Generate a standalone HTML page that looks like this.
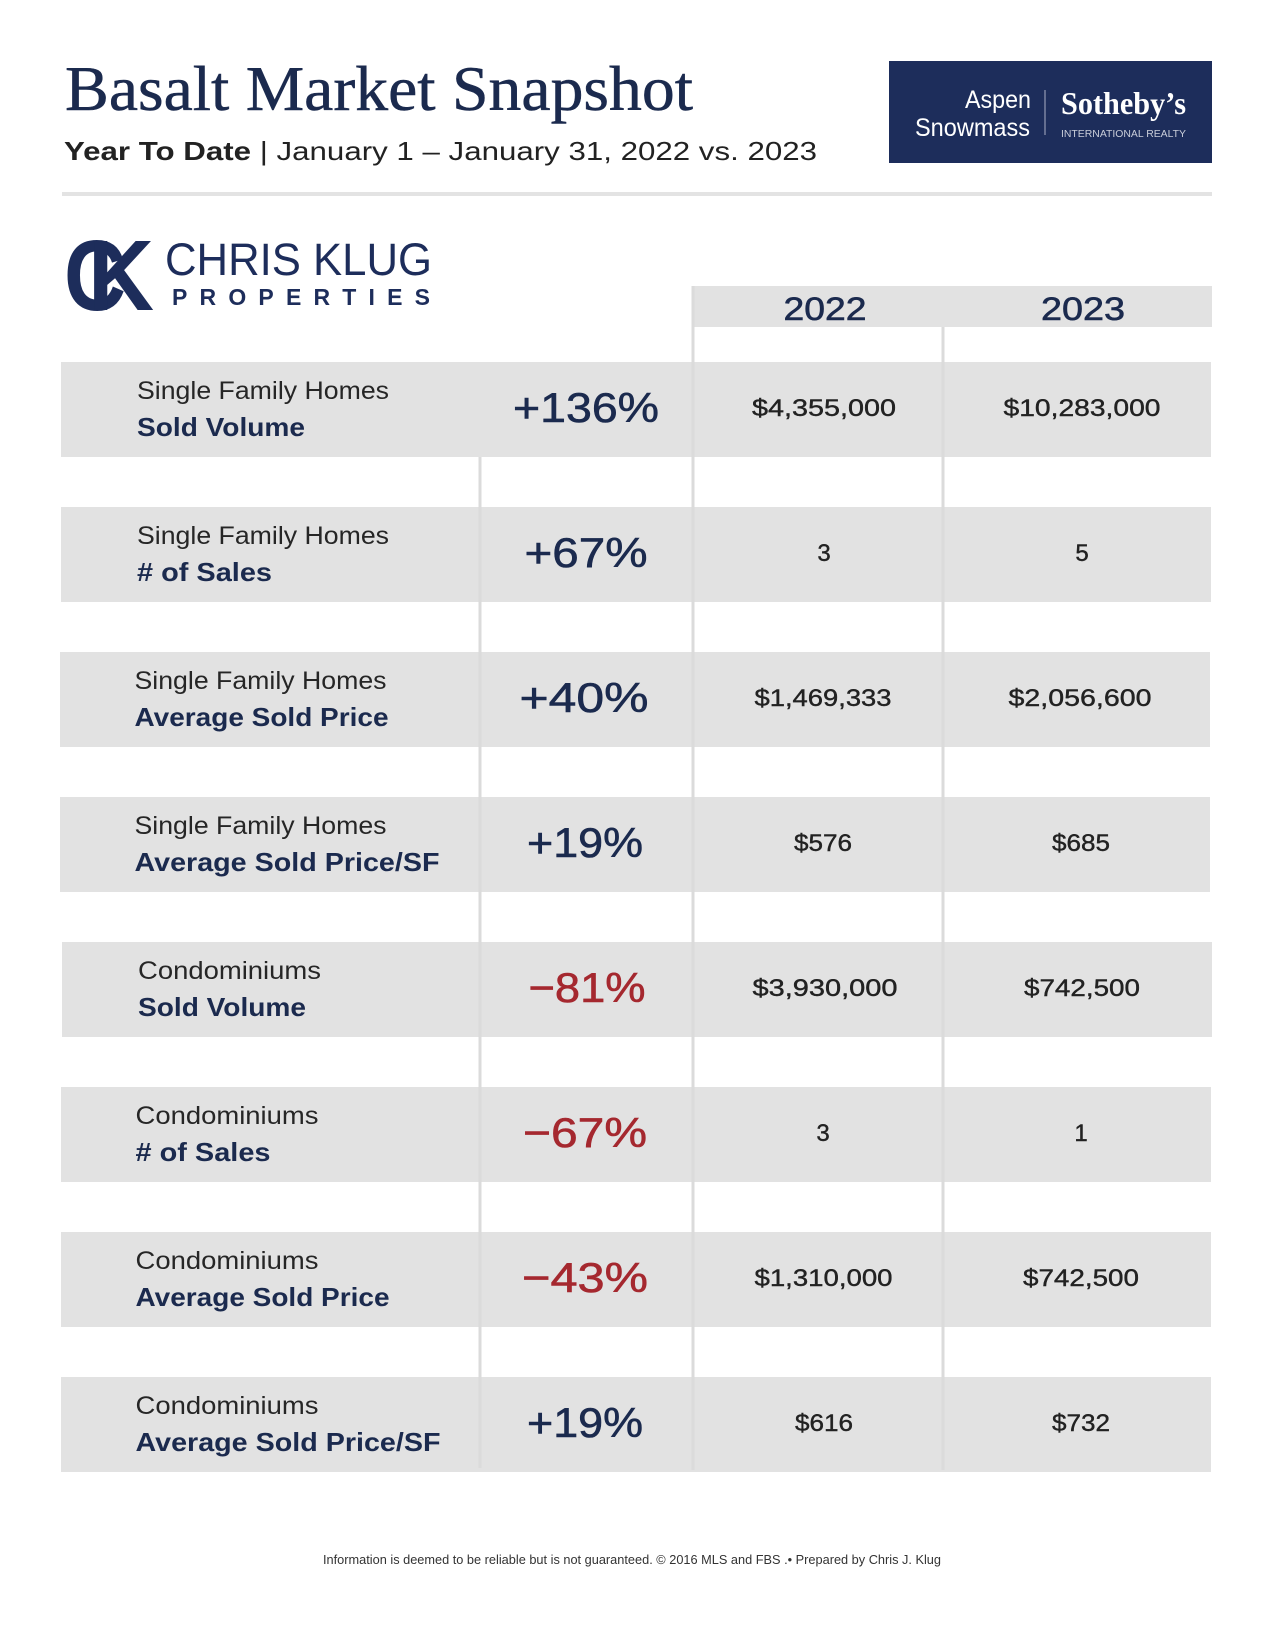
<!DOCTYPE html>
<html>
<head>
<meta charset="utf-8">
<style>
  html, body { margin: 0; padding: 0; background: #ffffff; }
  svg { display: block; }
</style>
</head>
<body>
<svg width="1275" height="1650" viewBox="0 0 1275 1650" xmlns="http://www.w3.org/2000/svg">
  <rect x="0" y="0" width="1275" height="1650" fill="#ffffff"/>

  <!-- Title -->
  <text x="65" y="110" font-family="'Liberation Serif', serif" font-size="64" fill="#1b2a4e" stroke="#1b2a4e" stroke-width="0.5" textLength="628" lengthAdjust="spacingAndGlyphs">Basalt Market Snapshot</text>

  <!-- Subtitle -->
  <text x="64" y="160" font-family="'Liberation Sans', sans-serif" font-size="26" fill="#222222" textLength="753" lengthAdjust="spacingAndGlyphs"><tspan font-weight="bold">Year To Date</tspan> | January 1 – January 31, 2022 vs. 2023</text>

  <!-- Sotheby's box -->
  <rect x="889" y="61" width="323" height="102" fill="#1d2d5b"/>
  <text x="965" y="108" font-family="'Liberation Sans', sans-serif" font-size="25" fill="#ffffff" textLength="66" lengthAdjust="spacingAndGlyphs">Aspen</text>
  <text x="915" y="136" font-family="'Liberation Sans', sans-serif" font-size="25" fill="#ffffff" textLength="115" lengthAdjust="spacingAndGlyphs">Snowmass</text>
  <rect x="1044.5" y="90" width="1" height="45" fill="#aab0c4"/>
  <text x="1061" y="114" font-family="'Liberation Serif', serif" font-weight="bold" font-size="32" fill="#ffffff" textLength="125" lengthAdjust="spacingAndGlyphs">Sotheby’s</text>
  <text x="1061" y="137" font-family="'Liberation Sans', sans-serif" font-size="10.5" fill="#c9cdd9" textLength="125" lengthAdjust="spacingAndGlyphs">INTERNATIONAL REALTY</text>

  <!-- Horizontal rule -->
  <rect x="62" y="192" width="1150" height="4" fill="#e3e3e3"/>

  <!-- Chris Klug logo -->
  <text x="64" y="310" font-family="'Liberation Sans', sans-serif" font-weight="bold" font-size="100" fill="#1d2d5b" textLength="62" lengthAdjust="spacingAndGlyphs">C</text>
  <text x="88" y="310" font-family="'Liberation Sans', sans-serif" font-weight="bold" font-size="100" fill="#1d2d5b" textLength="66" lengthAdjust="spacingAndGlyphs">K</text>
  <text x="165" y="275" font-family="'Liberation Sans', sans-serif" font-size="45" fill="#1d2d5b" textLength="267" lengthAdjust="spacingAndGlyphs">CHRIS KLUG</text>
  <text x="172" y="305" font-family="'Liberation Sans', sans-serif" font-weight="bold" font-size="23" fill="#1d2d5b" textLength="258" lengthAdjust="spacing">PROPERTIES</text>

  <!-- Header band -->
  <rect x="693" y="286" width="519" height="41" fill="#e2e2e2"/>
  <text x="825" y="320" text-anchor="middle" font-family="'Liberation Sans', sans-serif" font-size="32" fill="#1b2a4e" stroke="#1b2a4e" stroke-width="0.6" textLength="83" lengthAdjust="spacingAndGlyphs">2022</text>
  <text x="1083" y="320" text-anchor="middle" font-family="'Liberation Sans', sans-serif" font-size="32" fill="#1b2a4e" stroke="#1b2a4e" stroke-width="0.6" textLength="84" lengthAdjust="spacingAndGlyphs">2023</text>

  <!-- Row bands -->
  <g fill="#e2e2e2">
    <rect x="61" y="362" width="1150" height="95"/>
    <rect x="61" y="507" width="1150" height="95"/>
    <rect x="60" y="652" width="1150" height="95"/>
    <rect x="60" y="797" width="1150" height="95"/>
    <rect x="62" y="942" width="1150" height="95"/>
    <rect x="61" y="1087" width="1150" height="95"/>
    <rect x="61" y="1232" width="1150" height="95"/>
    <rect x="61" y="1377" width="1150" height="95"/>
  </g>

  <!-- Vertical lines -->
  <g fill="#dbdbdb">
    <rect x="691.5" y="286" width="3" height="1184"/>
    <rect x="941.5" y="327" width="3" height="1143"/>
    <rect x="478.5" y="457" width="3" height="1011"/>
  </g>

  <!-- Row 1 -->
  <g font-family="'Liberation Sans', sans-serif">
    <text x="137" y="399" font-size="25" fill="#262626" textLength="252" lengthAdjust="spacingAndGlyphs">Single Family Homes</text>
    <text x="137" y="436" font-size="26" font-weight="bold" fill="#1b2a4e" textLength="168" lengthAdjust="spacingAndGlyphs">Sold Volume</text>
    <text x="586" y="422" text-anchor="middle" font-size="42" fill="#1b2a4e" stroke="#1b2a4e" stroke-width="0.6" textLength="146" lengthAdjust="spacingAndGlyphs">+136%</text>
    <text x="824" y="416" text-anchor="middle" font-size="24" fill="#222222" stroke="#222222" stroke-width="0.4" textLength="144" lengthAdjust="spacingAndGlyphs">$4,355,000</text>
    <text x="1082" y="416" text-anchor="middle" font-size="24" fill="#222222" stroke="#222222" stroke-width="0.4" textLength="157" lengthAdjust="spacingAndGlyphs">$10,283,000</text>
  </g>

  <!-- Row 2 -->
  <g font-family="'Liberation Sans', sans-serif">
    <text x="137" y="544" font-size="25" fill="#262626" textLength="252" lengthAdjust="spacingAndGlyphs">Single Family Homes</text>
    <text x="137" y="581" font-size="26" font-weight="bold" fill="#1b2a4e" textLength="135" lengthAdjust="spacingAndGlyphs"># of Sales</text>
    <text x="586" y="567" text-anchor="middle" font-size="42" fill="#1b2a4e" stroke="#1b2a4e" stroke-width="0.6" textLength="123" lengthAdjust="spacingAndGlyphs">+67%</text>
    <text x="824" y="561" text-anchor="middle" font-size="24" fill="#222222" stroke="#222222" stroke-width="0.4">3</text>
    <text x="1082" y="561" text-anchor="middle" font-size="24" fill="#222222" stroke="#222222" stroke-width="0.4">5</text>
  </g>

  <!-- Row 3 -->
  <g font-family="'Liberation Sans', sans-serif">
    <text x="134.5" y="689" font-size="25" fill="#262626" textLength="252" lengthAdjust="spacingAndGlyphs">Single Family Homes</text>
    <text x="134.5" y="726" font-size="26" font-weight="bold" fill="#1b2a4e" textLength="254" lengthAdjust="spacingAndGlyphs">Average Sold Price</text>
    <text x="584" y="712" text-anchor="middle" font-size="42" fill="#1b2a4e" stroke="#1b2a4e" stroke-width="0.6" textLength="129" lengthAdjust="spacingAndGlyphs">+40%</text>
    <text x="823" y="706" text-anchor="middle" font-size="24" fill="#222222" stroke="#222222" stroke-width="0.4" textLength="137" lengthAdjust="spacingAndGlyphs">$1,469,333</text>
    <text x="1080" y="706" text-anchor="middle" font-size="24" fill="#222222" stroke="#222222" stroke-width="0.4" textLength="143" lengthAdjust="spacingAndGlyphs">$2,056,600</text>
  </g>

  <!-- Row 4 -->
  <g font-family="'Liberation Sans', sans-serif">
    <text x="134.5" y="834" font-size="25" fill="#262626" textLength="252" lengthAdjust="spacingAndGlyphs">Single Family Homes</text>
    <text x="134.5" y="871" font-size="26" font-weight="bold" fill="#1b2a4e" textLength="305" lengthAdjust="spacingAndGlyphs">Average Sold Price/SF</text>
    <text x="585" y="857" text-anchor="middle" font-size="42" fill="#1b2a4e" stroke="#1b2a4e" stroke-width="0.6" textLength="116" lengthAdjust="spacingAndGlyphs">+19%</text>
    <text x="823" y="851" text-anchor="middle" font-size="24" fill="#222222" stroke="#222222" stroke-width="0.4" textLength="58" lengthAdjust="spacingAndGlyphs">$576</text>
    <text x="1081" y="851" text-anchor="middle" font-size="24" fill="#222222" stroke="#222222" stroke-width="0.4" textLength="58" lengthAdjust="spacingAndGlyphs">$685</text>
  </g>

  <!-- Row 5 -->
  <g font-family="'Liberation Sans', sans-serif">
    <text x="138" y="979" font-size="25" fill="#262626" textLength="183" lengthAdjust="spacingAndGlyphs">Condominiums</text>
    <text x="138" y="1016" font-size="26" font-weight="bold" fill="#1b2a4e" textLength="168" lengthAdjust="spacingAndGlyphs">Sold Volume</text>
    <text x="587" y="1002" text-anchor="middle" font-size="42" fill="#a5282f" stroke="#a5282f" stroke-width="0.6" textLength="117" lengthAdjust="spacingAndGlyphs">−81%</text>
    <text x="825" y="996" text-anchor="middle" font-size="24" fill="#222222" stroke="#222222" stroke-width="0.4" textLength="145" lengthAdjust="spacingAndGlyphs">$3,930,000</text>
    <text x="1082" y="996" text-anchor="middle" font-size="24" fill="#222222" stroke="#222222" stroke-width="0.4" textLength="116" lengthAdjust="spacingAndGlyphs">$742,500</text>
  </g>

  <!-- Row 6 -->
  <g font-family="'Liberation Sans', sans-serif">
    <text x="135.5" y="1124" font-size="25" fill="#262626" textLength="183" lengthAdjust="spacingAndGlyphs">Condominiums</text>
    <text x="135.5" y="1161" font-size="26" font-weight="bold" fill="#1b2a4e" textLength="135" lengthAdjust="spacingAndGlyphs"># of Sales</text>
    <text x="585" y="1147" text-anchor="middle" font-size="42" fill="#a5282f" stroke="#a5282f" stroke-width="0.6" textLength="124" lengthAdjust="spacingAndGlyphs">−67%</text>
    <text x="823" y="1141" text-anchor="middle" font-size="24" fill="#222222" stroke="#222222" stroke-width="0.4">3</text>
    <text x="1081" y="1141" text-anchor="middle" font-size="24" fill="#222222" stroke="#222222" stroke-width="0.4">1</text>
  </g>

  <!-- Row 7 -->
  <g font-family="'Liberation Sans', sans-serif">
    <text x="135.5" y="1269" font-size="25" fill="#262626" textLength="183" lengthAdjust="spacingAndGlyphs">Condominiums</text>
    <text x="135.5" y="1306" font-size="26" font-weight="bold" fill="#1b2a4e" textLength="254" lengthAdjust="spacingAndGlyphs">Average Sold Price</text>
    <text x="585" y="1292" text-anchor="middle" font-size="42" fill="#a5282f" stroke="#a5282f" stroke-width="0.6" textLength="126" lengthAdjust="spacingAndGlyphs">−43%</text>
    <text x="823.5" y="1286" text-anchor="middle" font-size="24" fill="#222222" stroke="#222222" stroke-width="0.4" textLength="138" lengthAdjust="spacingAndGlyphs">$1,310,000</text>
    <text x="1081" y="1286" text-anchor="middle" font-size="24" fill="#222222" stroke="#222222" stroke-width="0.4" textLength="116" lengthAdjust="spacingAndGlyphs">$742,500</text>
  </g>

  <!-- Row 8 -->
  <g font-family="'Liberation Sans', sans-serif">
    <text x="135.5" y="1414" font-size="25" fill="#262626" textLength="183" lengthAdjust="spacingAndGlyphs">Condominiums</text>
    <text x="135.5" y="1451" font-size="26" font-weight="bold" fill="#1b2a4e" textLength="305" lengthAdjust="spacingAndGlyphs">Average Sold Price/SF</text>
    <text x="585" y="1437" text-anchor="middle" font-size="42" fill="#1b2a4e" stroke="#1b2a4e" stroke-width="0.6" textLength="116" lengthAdjust="spacingAndGlyphs">+19%</text>
    <text x="824" y="1431" text-anchor="middle" font-size="24" fill="#222222" stroke="#222222" stroke-width="0.4" textLength="58" lengthAdjust="spacingAndGlyphs">$616</text>
    <text x="1081" y="1431" text-anchor="middle" font-size="24" fill="#222222" stroke="#222222" stroke-width="0.4" textLength="58" lengthAdjust="spacingAndGlyphs">$732</text>
  </g>

  <!-- Footer -->
  <text x="323" y="1564" font-family="'Liberation Sans', sans-serif" font-size="12.5" fill="#333333" textLength="618" lengthAdjust="spacingAndGlyphs">Information is deemed to be reliable but is not guaranteed. © 2016 MLS and FBS .• Prepared by Chris J. Klug</text>
</svg>
</body>
</html>
